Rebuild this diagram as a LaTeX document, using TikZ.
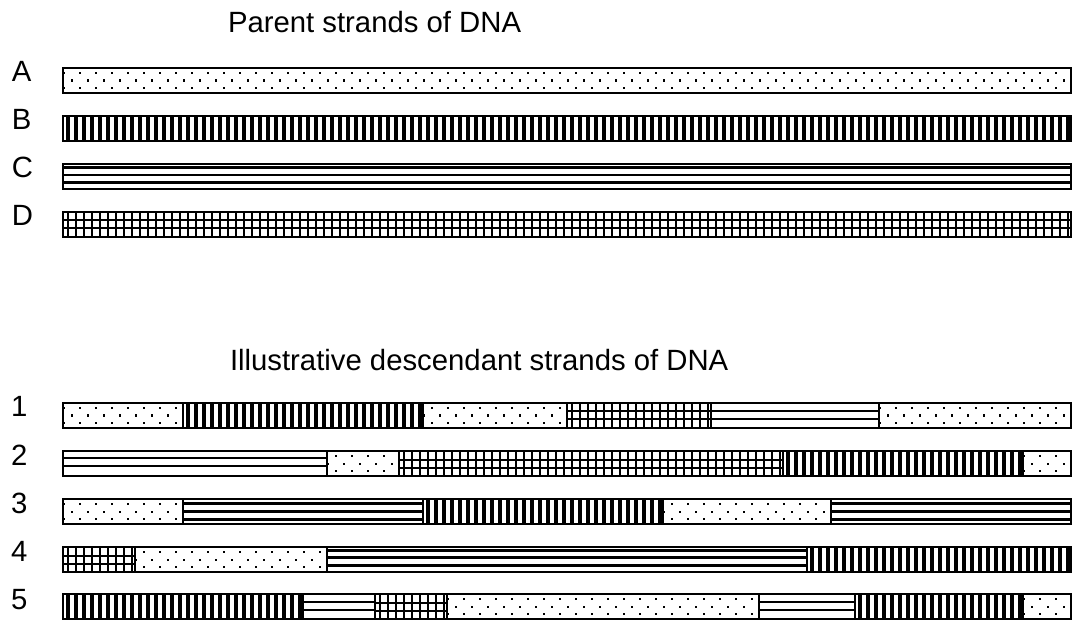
\documentclass[tikz,border=0pt]{standalone}
\usepackage{fontspec}
\setmainfont{Liberation Sans}
\tikzset{
  txtlab/.style={font=\fontsize{29.3}{34}\selectfont, anchor=base west, inner sep=0pt, outer sep=0pt},
  bord/.style={line width=2.4pt, draw=black},
  vstripe/.style={line width=3.2pt},
  hstripe/.style={line width=2.4pt},
  gridline/.style={line width=2pt},
}
% dots
\newcommand\dnaP[4]{%
  \pgfmathtruncatemacro\dka{(#1-63)/16-1}%
  \pgfmathtruncatemacro\dkb{(#2-63)/16+1}%
  \foreach \dk in {\dka,...,\dkb}{%
    \fill ({63+16*\dk},{#3+4}) rectangle +(2.4,2.4);
    \fill ({63+16*\dk+8},{#3+11.5}) rectangle +(2.4,2.4);
    \fill ({63+16*\dk},{#3+19}) rectangle +(2.4,2.4);
  }%
}
% vertical stripes
\newcommand\dnaV[4]{%
  \pgfmathtruncatemacro\dia{(#1-63)/8-1}%
  \pgfmathtruncatemacro\dib{(#2-63)/8}%
  \foreach \di in {\dia,...,\dib}{%
    \draw[vstripe] ({63+8*\di+5},#3) -- ({63+8*\di+5},{#3+25});
  }%
}
% horizontal stripes
\newcommand\dnaH[4]{%
  \foreach \dof in {#4}{%
    \draw[hstripe] (#1,{#3+\dof}) -- (#2,{#3+\dof});
  }%
}
% grid
\newcommand\dnaG[4]{%
  \pgfmathtruncatemacro\dia{(#1-63)/8-1}%
  \pgfmathtruncatemacro\dib{(#2-63)/8}%
  \foreach \di in {\dia,...,\dib}{%
    \draw[gridline] ({63+8*\di+5},#3) -- ({63+8*\di+5},{#3+25});
  }%
  \draw[gridline] (#1,{#3+8.5}) -- (#2,{#3+8.5});
  \draw[gridline] (#1,{#3+16.5}) -- (#2,{#3+16.5});
}
% a whole bar: #1 top, #2 horizontal-stripe offsets, #3 segments start/end/kind
\newcommand\dnabar[3]{%
  \foreach \ua/\ub/\uk in {#3}{%
    \pgfmathsetmacro\segxa{63+24*\ua}%
    \pgfmathsetmacro\segxb{63+24*\ub}%
    \begin{scope}
      \clip (\segxa,#1) rectangle (\segxb,{#1+25});
      \csname dna\uk\endcsname{\segxa}{\segxb}{#1}{#2}%
    \end{scope}
    \draw[bord] (\segxa,#1) rectangle (\segxb,{#1+25});
  }%
}
\begin{document}
\begin{tikzpicture}[x=1pt, y=-1pt]
\useasboundingbox (0,0) rectangle (1077,620);

\node[txtlab] (title1) at (228,33) {Parent strands of DNA};
\node[txtlab] (title2) at (230,371) {Illustrative descendant strands of DNA};

\node[txtlab] (labA) at (12,82) {A};
\node[txtlab] (labB) at (12,130) {B};
\node[txtlab] (labC) at (12,178) {C};
\node[txtlab] (labD) at (12,226) {D};

\node[txtlab] (lab1) at (11,417) {1};
\node[txtlab] (lab2) at (11,465) {2};
\node[txtlab] (lab3) at (11,513) {3};
\node[txtlab] (lab4) at (11,561) {4};
\node[txtlab] (lab5) at (11,609) {5};

\dnabar{68}{3.5,11,18.5}{0/42/P}
\dnabar{116}{3.5,11,18.5}{0/42/V}
\dnabar{164}{3.5,11,18.5}{0/42/H}
\dnabar{212}{3.5,11,18.5}{0/42/G}

\dnabar{403}{8,16}{0/5/P,5/15/V,15/21/P,21/27/G,27/34/H,34/42/P}
\dnabar{451}{7,15}{0/11/H,11/14/P,14/30/G,30/40/V,40/42/P}
\dnabar{499}{4.5,12.5,20.5}{0/5/P,5/15/H,15/25/V,25/32/P,32/42/H}
\dnabar{547}{3.5,10.5,18.5}{0/3/G,3/11/P,11/31/H,31/42/V}
\dnabar{594}{8,16}{0/10/V,10/13/H,13/16/G,16/29/P,29/33/H,33/40/V,40/42/P}
\end{tikzpicture}
\end{document}
